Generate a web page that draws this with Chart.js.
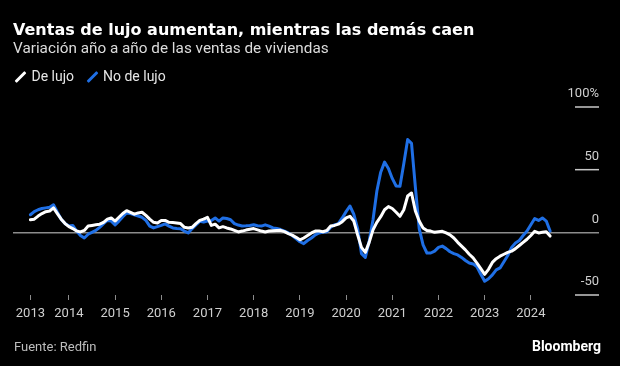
<!DOCTYPE html>
<html lang="es">
<head>
<meta charset="utf-8">
<title>Ventas de lujo aumentan, mientras las demás caen</title>
<script src="https://cdn.jsdelivr.net/npm/chart.js@4.4.1/dist/chart.umd.min.js"></script>
<style>
  html, body { margin: 0; padding: 0; background: #000; }
  #wrap { position: relative; width: 620px; height: 366px; overflow: hidden; background: #000; font-family: Roboto, sans-serif; }
  #wrap canvas { position: absolute; left: 0; top: 0; }
  .t { position: absolute; white-space: nowrap; line-height: 1; }
  #titulo { left: 13px; top: 21.5px; font-family: "DejaVu Sans", sans-serif; font-weight: bold; font-size: 16px; color: #fff; }
  #subtitulo { left: 13px; top: 40.5px; font-size: 15.3px; color: #dcdcdc; }
  .ico { position: absolute; width: 3px; height: 14px; border-radius: 1px; transform: rotate(45deg); }
  .ley { top: 69px; font-size: 14px; color: #e6e6e6; }
  #fuente { left: 14px; top: 339.5px; font-size: 13px; color: #bdbdbd; }
  #marca { right: 19px; top: 339px; font-size: 14px; font-weight: bold; color: #fff; }
</style>
</head>
<body>
<div id="wrap">
  <canvas id="grafico" width="620" height="366"></canvas>
  <div class="t" id="titulo">Ventas de lujo aumentan, mientras las demás caen</div>
  <div class="t" id="subtitulo">Variación año a año de las ventas de viviendas</div>
  <div class="ico" style="left:18.5px;top:69.7px;background:#fff"></div>
  <div class="t ley" style="left:31.5px">De lujo</div>
  <div class="ico" style="left:90.5px;top:69.7px;background:#1f6fe5"></div>
  <div class="t ley" style="left:103px">No de lujo</div>
  <div class="t" id="fuente">Fuente: Redfin</div>
  <div class="t" id="marca">Bloomberg</div>
</div>
<script>
// Variación interanual (%) de ventas de viviendas, mensual desde marzo 2013 hasta junio 2024
const primerMes = 2; // meses contados desde enero 2013 (2 = marzo)

const lujo = [
  10, 10.5, 13, 15, 16.5, 17, 19.5, 15, 10.5, 7,
  4.5, 3, 1, 0.3, 1.5, 5, 5.5, 6, 6.5, 8, 10.5, 11.5,
  9, 12, 15, 17.3, 16, 14.5, 15.5, 16, 13.5, 10.5, 8, 7.5,
  9.5, 9.5, 8, 7.8, 7.5, 7, 4, 3.5, 4, 7, 9.5, 10.5,
  12, 5.5, 6.5, 3.5, 4.5, 3.5, 2.7, 1.5, 0.3, 1, 1.8, 2.5,
  3, 2, 1, 0.3, 1, 1.2, 1.4, 1.6, 0.5, -1, -2.2, -4,
  -6, -4.5, -2.5, -0.5, 1, 1, 0.5, 1.5, 5, 5.5, 6.5, 8.5,
  11.5, 12.8, 9, -2, -12, -16, -8, 2, 8, 12.5, 18, 20.5,
  19, 16, 12.8, 18, 29, 31.4, 17, 9, 3.5, 1.4, 1, 0,
  0.5, 0.8, -0.5, -2, -4.5, -8, -11, -14, -17.5, -20.4, -24.5, -29,
  -33.5, -29.5, -24, -21, -19, -17.5, -16, -15, -13, -10.5, -8, -5.5,
  -2.5, 0.8, -0.5, 0, 0.5, -3
];

const noLujo = [
  14, 16.5, 18, 19, 19.5, 20, 22, 16, 10.5, 7,
  5, 5.5, 1, -2.5, -4.5, -1.5, 0, 1.5, 4, 7, 9.5, 9,
  6, 9, 12.5, 15.5, 15, 14, 13, 12, 9.5, 5, 3.5, 4.5,
  5.5, 6.7, 5, 3.5, 3, 2.8, 1, -0.5, 3, 6, 8.8, 8.2,
  9, 9.5, 11.5, 9, 11.5, 11, 10, 7, 5.8, 5, 5.2, 5.5,
  6, 5.2, 5, 6, 5, 3.5, 3, 2.2, 1, -0.5, -2.5, -5,
  -7.5, -9, -6.5, -4.5, -2, -0.5, 0, 0.5, 4, 6, 7, 11.5,
  16.5, 21, 14.5, 3, -17, -20, -7, 10, 33, 48, 56, 51,
  43, 37, 36.7, 55, 74, 71, 36, 3, -10, -16.5, -16.5, -15,
  -12, -11, -13, -15.5, -17, -18, -20, -22.5, -24.5, -25.2, -27.5, -33.5,
  -39, -37, -34, -30, -28.4, -23.5, -18.5, -12, -8.5, -6.5, -2.5, 1,
  6, 11, 9.5, 11.5, 9, 1
];

// Marcas del eje X (mes desde enero 2013) y sus etiquetas
const posAnios = [2, 12, 24, 36, 48, 60, 72, 84, 96, 108, 120, 132];
const etiquetasAnios = ['2013', '2014', '2015', '2016', '2017', '2018', '2019', '2020', '2021', '2022', '2023', '2024'];
const valoresY = [-50, 0, 50, 100];

const puntos = (serie) => serie.map((v, i) => ({ x: primerMes + i, y: v }));

// Trazos cortos a la derecha bajo cada etiqueta del eje Y
const marcasY = {
  id: 'marcasY',
  afterDraw(chart) {
    const { ctx, chartArea, scales: { y } } = chart;
    ctx.save();
    ctx.strokeStyle = '#c8c8c8';
    ctx.lineWidth = 1.5;
    valoresY.filter((v) => v !== 0).forEach((v) => {
      const py = y.getPixelForValue(v);
      ctx.beginPath();
      ctx.moveTo(chartArea.right - 24, py);
      ctx.lineTo(chartArea.right, py);
      ctx.stroke();
    });
    ctx.restore();
  }
};

const fuente = { family: 'Roboto', size: 13 };

new Chart(document.getElementById('grafico'), {
  type: 'line',
  data: {
    datasets: [
      { label: 'De lujo', data: puntos(lujo), borderColor: '#ffffff', borderWidth: 3, pointRadius: 0, tension: 0, borderJoinStyle: 'round', borderCapStyle: 'round' },
      { label: 'No de lujo', data: puntos(noLujo), borderColor: '#1f6fe5', borderWidth: 3, pointRadius: 0, tension: 0, borderJoinStyle: 'round', borderCapStyle: 'round' }
    ]
  },
  options: {
    responsive: false,
    animation: false,
    layout: { padding: { left: 13, right: 21, top: 107, bottom: 46 } },
    plugins: { legend: { display: false }, tooltip: { enabled: false } },
    scales: {
      x: {
        type: 'linear',
        min: -2.52,
        max: 149.7,
        afterBuildTicks: (s) => { s.ticks = posAnios.map((v) => ({ value: v })); },
        afterFit: (s) => { s.height = 25; },
        grid: { drawOnChartArea: false, drawTicks: true, tickLength: 5, color: '#8c8c8c' },
        border: { display: false },
        ticks: { autoSkip: false, maxRotation: 0, padding: 6, color: '#cfcfcf', font: fuente,
                 callback: (v, i) => etiquetasAnios[i] }
      },
      y: {
        position: 'right',
        min: -50,
        max: 100,
        afterBuildTicks: (s) => { s.ticks = valoresY.map((v) => ({ value: v })); },
        afterFit: (s) => { s.width = 0; },
        grid: { drawTicks: false, lineWidth: 1.5,
                color: (c) => (c.tick && c.tick.value === 0 ? '#8c8c8c' : 'rgba(0,0,0,0)') },
        border: { display: false },
        ticks: { mirror: true, padding: 0, labelOffset: -13, color: '#cfcfcf', font: fuente,
                 callback: (v) => (v === 100 ? '100%' : v) }
      }
    }
  },
  plugins: [marcasY]
});
</script>
</body>
</html>
